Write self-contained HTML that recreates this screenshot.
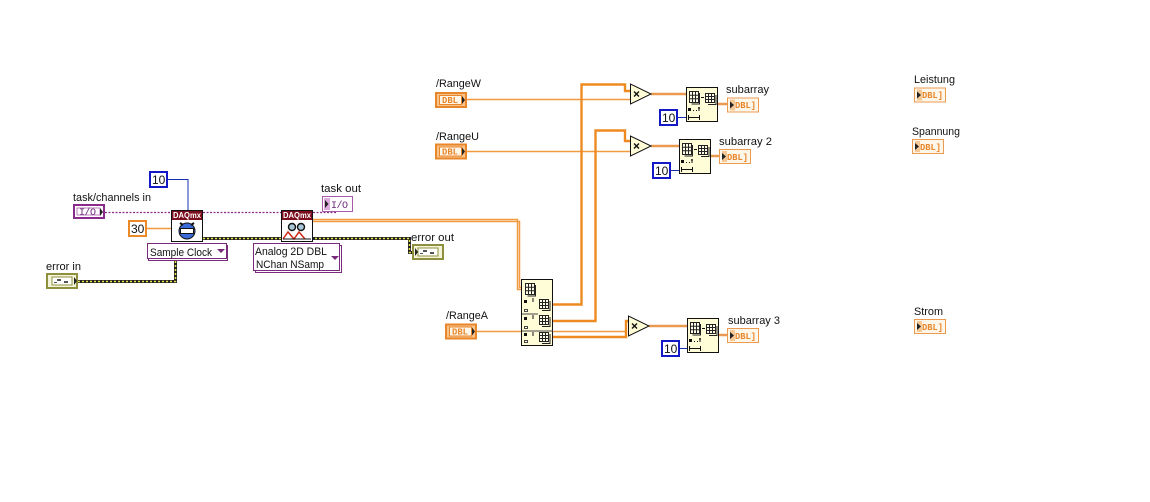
<!DOCTYPE html>
<html><head><meta charset="utf-8"><style>
html,body{margin:0;padding:0;background:#fff}
svg{display:block}
.l{font:11px "Liberation Sans",sans-serif;fill:#111}
.d{font:bold 9.5px "Liberation Mono",monospace;fill:#e8862a}
.n{font:12px "Liberation Sans",sans-serif;fill:#111}
.q{font:bold 8px "Liberation Sans",sans-serif;fill:#fff}
.p{font:10px "Liberation Mono",monospace;fill:#6a2a7a}
</style></head><body>
<svg width="1150" height="502" viewBox="0 0 1150 502" xmlns="http://www.w3.org/2000/svg">
<defs>
<g id="grid"><path d="M2.5 2.5h9v11h-9zM5.500 2.500v11M8.500 2.500v11M2.500 6.200h9M2.500 9.800h9" fill="#fffde8" stroke="#222" stroke-width="1"/><path d="M12.500 4v11h-8" fill="none" stroke="#222"/></g>
<g id="sm"><path d="M.5.500h9v9h-9zM3.500.5v9M6.500.5v9M.5 3.500h9M.5 6.500h9" fill="#fffde8" stroke="#222" stroke-width="1"/><path d="M11 2v9.500H3" fill="none" stroke="#222"/></g>
<g id="sub"><rect x=".5" y=".5" width="31" height="34" fill="#fffcd8" stroke="#111"/><use href="#grid" x="1" y="2"/><use href="#sm" x="19" y="6"/><path d="M15 10.500h3" stroke="#111"/><path d="M2 21h3v3H2z" fill="#111"/><path d="M7 23.500h1M10 23.500h1M13 20v4M12 21h2" stroke="#111"/><path d="M2 30.500h12M2.500 28v5M13.500 28v5" stroke="#111"/></g>
<g id="ind"><rect x=".5" y=".5" width="31" height="14" fill="#fff6ea" stroke="#ec9a50"/><rect x="3" y="2" width="5" height="11" fill="#f5c896"/><path d="M3 4v7l4-3.500z" fill="#222"/></g>
<g id="ctl"><rect x="1" y="1" width="30" height="14" fill="#f9c48c" stroke="#e8862a" stroke-width="2"/><rect x="4.500" y="3.500" width="22" height="9" fill="#fff6ea" stroke="#e8862a"/><path d="M27 4v8l3-4z" fill="#222"/></g>
<g id="tri"><path d="M.5 0V20L21 10z" fill="#fffcd8" stroke="#111"/><path d="M4 7.500l5 5M9 7.500l-5 5" stroke="#111" stroke-width="1.400"/></g>
<g id="err"><rect x="1" y="1" width="30" height="14" fill="#f4f4d8" stroke="#8e9040" stroke-width="2"/><rect x="6" y="4" width="20" height="8" fill="#fff" stroke="#8e9040"/><path d="M11 6h4v2h-4zM18 8h4v2h-4zM8 9h3v1H8z" fill="#555"/></g>
</defs>

<!-- thin wires -->
<g fill="none" stroke="#1a2fb0" stroke-width="1"><path d="M168 179.500h20V210M678 117.500h8M671 170.500h8M680 348.500h7"/></g>
<g fill="none" stroke="#f29a40" stroke-width="1.500">
<path d="M147 228.500h24M467 99.500h163M467 151.500h163M476 331.500h150"/>
<path d="M313 219.500h204.500V289.500h4M313 221.500h206.500V287.500h2"/>
</g>
<!-- purple task wire -->
<g fill="none" stroke="#8a2a8a" stroke-width="1.300" stroke-dasharray="2 1.500"><path d="M105 212.500h66M203 212.500h78M313 212.500h24"/></g>
<!-- error wires -->
<g fill="none">
<path d="M78 281.500h97.500V260M203 238.500h206.500V252.500h3" stroke="#222" stroke-width="3"/>
<path d="M78 281.500h97.500V260M203 238.500h206.500V252.500h3" stroke="#e8e44a" stroke-width="1.500" stroke-dasharray="2 2"/>
</g>
<!-- thick wires -->
<g fill="none" stroke="#ee8a22" stroke-width="2.400">
<path d="M553 304.500h28.500V84.500H625V91h5M553 321h42.500V130.500H625V141h5M553 337h73V321h2"/>
<path d="M651 94h35M651 146h28M649 326h38M718 104h9M711 156h8M719 335h8" stroke="#ea9a50"/>
</g>

<!-- constants -->
<g fill="#fff" stroke-width="2">
<rect x="150" y="172" width="17" height="15" stroke="#1419c8"/>
<rect x="660" y="110" width="17" height="15" stroke="#1419c8"/>
<rect x="653" y="163" width="17" height="15" stroke="#1419c8"/>
<rect x="662" y="341" width="17" height="15" stroke="#1419c8"/>
<rect x="129" y="221" width="17" height="15" stroke="#ec8a2a"/>
</g>
<text class="n" x="152" y="184">10</text>
<text class="n" x="662" y="122">10</text>
<text class="n" x="655" y="175">10</text>
<text class="n" x="664" y="353">10</text>
<text class="n" x="131" y="233">30</text>

<!-- task in -->
<rect x="74" y="205" width="30" height="13" fill="#fff" stroke="#8a2a8a" stroke-width="2"/>
<rect x="77" y="208" width="23" height="7" fill="#fff" stroke="#8a2a8a" stroke-width=".6"/>
<text class="p" x="79" y="215" textLength="17">I/O</text>
<path d="M100 208v8l3-4z" fill="#222"/>
<text class="l" x="73" y="201" textLength="78" lengthAdjust="spacingAndGlyphs">task/channels in</text>

<!-- task out -->
<rect x="322.500" y="196.500" width="30" height="15" fill="#fff" stroke="#a85aa8"/>
<rect x="324" y="198" width="6" height="12" fill="#dcaadc"/>
<path d="M325 200v8l3.500-4z" fill="#222"/>
<text class="p" x="331" y="208" textLength="17">I/O</text>
<text class="l" x="321" y="192" textLength="40" lengthAdjust="spacingAndGlyphs">task out</text>

<!-- VI 1 -->
<rect x="171.500" y="210.500" width="31" height="31" fill="#fff" stroke="#111"/>
<rect x="172" y="211" width="30" height="9" fill="#7a0c1c"/>
<text class="q" x="173" y="218" textLength="28" lengthAdjust="spacingAndGlyphs">DAQmx</text>
<circle cx="187" cy="231" r="8" fill="#3a6ad8" stroke="#111"/>
<path d="M180 223l3 2M194 223l-3 2" stroke="#111" stroke-width="2"/>
<rect x="180.500" y="228.500" width="13" height="5" fill="#fff" stroke="#111"/>
<!-- VI 2 -->
<rect x="281.500" y="210.500" width="31" height="31" fill="#fff" stroke="#111"/>
<rect x="282" y="211" width="30" height="9" fill="#7a0c1c"/>
<text class="q" x="283" y="218" textLength="28" lengthAdjust="spacingAndGlyphs">DAQmx</text>
<circle cx="292" cy="227" r="3.500" fill="#a8c8d8" stroke="#111" stroke-width="1.400"/>
<circle cx="301" cy="227" r="3.500" fill="#a8c8d8" stroke="#111" stroke-width="1.400"/>
<path d="M283 239l5-7 6 7 5-7 6 7" fill="none" stroke="#d02818" stroke-width="1.500"/>
<path d="M283 239h28" stroke="#111"/>

<!-- rings -->
<rect x="148.500" y="245.500" width="79" height="15" fill="#fff" stroke="#7a2a7a"/>
<rect x="147.500" y="243.500" width="79" height="15" fill="#fff" stroke="#7a2a7a"/>
<text class="l" x="150" y="256" textLength="62" lengthAdjust="spacingAndGlyphs">Sample Clock</text>
<path d="M217 249h8l-4 4z" fill="#7a2a7a"/>
<rect x="255.500" y="245.500" width="86" height="27" fill="#fff" stroke="#7a2a7a"/>
<rect x="253.500" y="243.500" width="86" height="27" fill="#fff" stroke="#7a2a7a"/>
<text class="l" x="255" y="255" textLength="72" lengthAdjust="spacingAndGlyphs">Analog 2D DBL</text>
<text class="l" x="256" y="268" textLength="68" lengthAdjust="spacingAndGlyphs">NChan NSamp</text>
<path d="M331 256h8l-4 4z" fill="#7a2a7a"/>

<!-- errors -->
<use href="#err" x="46" y="273"/>
<path d="M74 277v8l3-4z" fill="#222"/>
<text class="l" x="46" y="270" textLength="35" lengthAdjust="spacingAndGlyphs">error in</text>
<use href="#err" x="412" y="244"/>
<path d="M415 248v8l3-4z" fill="#222"/>
<text class="l" x="411" y="241" textLength="43" lengthAdjust="spacingAndGlyphs">error out</text>

<!-- range controls -->
<use href="#ctl" x="435" y="92"/><text class="d" x="442" y="103" textLength="16" lengthAdjust="spacingAndGlyphs">DBL</text>
<text class="l" x="436" y="87" textLength="45" lengthAdjust="spacingAndGlyphs">/RangeW</text>
<use href="#ctl" x="435" y="143.500"/><text class="d" x="442" y="154.500" textLength="16" lengthAdjust="spacingAndGlyphs">DBL</text>
<text class="l" x="436" y="140" textLength="43" lengthAdjust="spacingAndGlyphs">/RangeU</text>
<use href="#ctl" x="445" y="323.500"/><text class="d" x="452" y="334.500" textLength="16" lengthAdjust="spacingAndGlyphs">DBL</text>
<text class="l" x="446" y="319" textLength="42" lengthAdjust="spacingAndGlyphs">/RangeA</text>

<!-- index array -->
<rect x="521.500" y="279.500" width="31" height="66" fill="#fffcd8" stroke="#111"/>
<path d="M522 314h16M522 331h31" stroke="#444"/>
<use href="#grid" x="523" y="281"/>
<use href="#sm" x="539" y="299"/><use href="#sm" x="539" y="315"/><use href="#sm" x="539" y="332"/>
<path d="M524 300h3v3h-3zM524 317h3v3h-3zM524 333h3v3h-3z" fill="#111"/>
<path d="M524.500 309.500h3v2h-3zM524.500 326.500h3v2h-3zM524.500 340.500h3v2h-3z" fill="#fff" stroke="#111" stroke-width=".8"/>
<path d="M533 298v4M533 315v4M533 332v4" stroke="#111"/>

<!-- multiply -->
<use href="#tri" x="630" y="84"/>
<use href="#tri" x="630" y="136"/>
<use href="#tri" x="628" y="316"/>

<!-- subarrays -->
<use href="#sub" x="686" y="87"/>
<use href="#sub" x="679" y="139"/>
<use href="#sub" x="687" y="318"/>

<!-- indicators -->
<use href="#ind" x="727" y="97.500"/><text class="d" x="735" y="108" textLength="21" lengthAdjust="spacingAndGlyphs">DBL]</text>
<text class="l" x="726" y="93" textLength="43" lengthAdjust="spacingAndGlyphs">subarray</text>
<use href="#ind" x="719" y="149"/><text class="d" x="727" y="160" textLength="21" lengthAdjust="spacingAndGlyphs">DBL]</text>
<text class="l" x="719" y="145" textLength="53" lengthAdjust="spacingAndGlyphs">subarray 2</text>
<use href="#ind" x="727" y="328"/><text class="d" x="735" y="339" textLength="21" lengthAdjust="spacingAndGlyphs">DBL]</text>
<text class="l" x="728" y="324" textLength="52" lengthAdjust="spacingAndGlyphs">subarray 3</text>

<use href="#ind" x="914" y="87.500"/><text class="d" x="922" y="98" textLength="21" lengthAdjust="spacingAndGlyphs">DBL]</text>
<text class="l" x="914" y="83" textLength="41" lengthAdjust="spacingAndGlyphs">Leistung</text>
<use href="#ind" x="912" y="139"/><text class="d" x="920" y="150" textLength="21" lengthAdjust="spacingAndGlyphs">DBL]</text>
<text class="l" x="912" y="135" textLength="48" lengthAdjust="spacingAndGlyphs">Spannung</text>
<use href="#ind" x="914" y="319"/><text class="d" x="922" y="330" textLength="21" lengthAdjust="spacingAndGlyphs">DBL]</text>
<text class="l" x="914" y="315" textLength="29" lengthAdjust="spacingAndGlyphs">Strom</text>
</svg>
</body></html>
